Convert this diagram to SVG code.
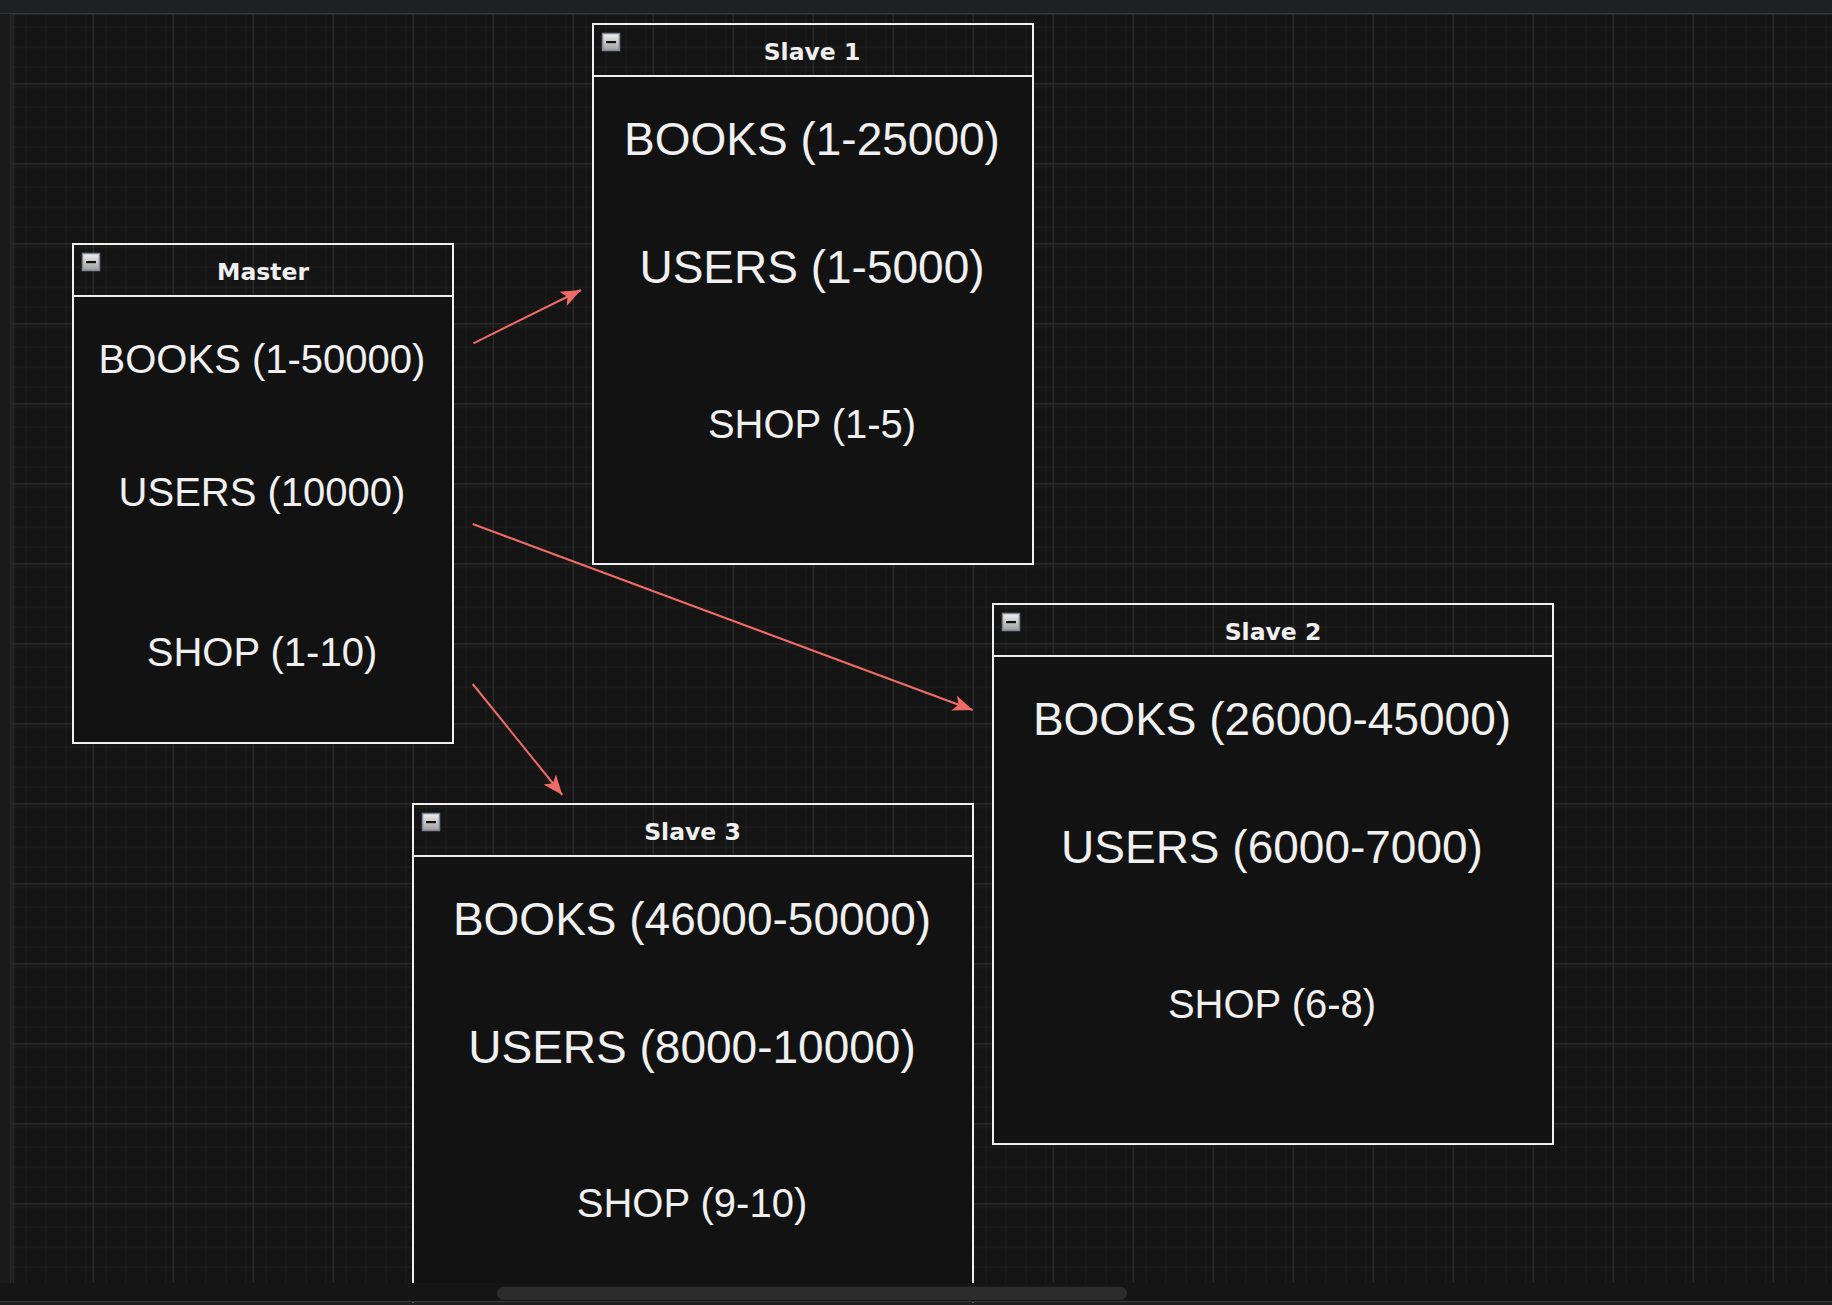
<svg xmlns="http://www.w3.org/2000/svg" width="1832" height="1305" viewBox="0 0 1832 1305">
  <style>
    .frame { fill: none; stroke: #f0f0f0; stroke-width: 2; }
    .body { fill: #121212; stroke: #f0f0f0; stroke-width: 2; }
    .title { font-family: "DejaVu Sans", Verdana, sans-serif; font-weight: bold; font-size: 23.5px; fill: #f0f0f0; text-anchor: middle; }
    .big { font-family: "Liberation Sans", Arial, Helvetica, sans-serif; font-size: 46px; fill: #f0f0f0; text-anchor: middle; }
    .mid { font-family: "Liberation Sans", Arial, Helvetica, sans-serif; font-size: 40px; fill: #f0f0f0; text-anchor: middle; }
    .edge { fill: none; stroke: #f06b66; stroke-width: 2; }
  </style>
  <defs>
    <pattern id="minor" width="20" height="20" patternUnits="userSpaceOnUse" patternTransform="translate(12.7 3.3)">
      <path d="M0.5 0 V20 M0 0.5 H20" stroke="#1f1f1f" stroke-width="1.3" fill="none"/>
    </pattern>
    <pattern id="major" width="80" height="80" patternUnits="userSpaceOnUse" patternTransform="translate(12.7 3.3)">
      <rect width="80" height="80" fill="url(#minor)"/>
      <path d="M0.5 0 V80 M0 0.5 H80" stroke="#303030" stroke-width="1.3" fill="none"/>
    </pattern>
    <linearGradient id="btn" x1="0" y1="0" x2="0" y2="1">
      <stop offset="0" stop-color="#f2f2f2"/>
      <stop offset="1" stop-color="#9c9c9c"/>
    </linearGradient>
    <g id="minus">
      <rect x="0" y="0" width="17" height="17" fill="url(#btn)" stroke="#7c8596" stroke-width="1.5"/>
      <rect x="3.5" y="7.5" width="10" height="2.2" fill="#111"/>
    </g>
    <marker id="arrow" viewBox="-21 -9 22 18" refX="0" refY="0" markerWidth="22" markerHeight="18" markerUnits="userSpaceOnUse" orient="auto">
      <path d="M0 0 L-20 -8 L-15 0 L-20 8 Z" fill="#f06b66"/>
    </marker>
  </defs>

  <!-- canvas -->
  <rect x="0" y="0" width="1832" height="1305" fill="#141414"/>
  <rect x="12" y="14" width="1820" height="1270" fill="url(#major)"/>

  <g id="connectors">
    <path id="e1" class="edge" d="M473.4 343.3 L581 290" marker-end="url(#arrow)"/>
    <path id="e2" class="edge" d="M472.7 524 L972.7 710" marker-end="url(#arrow)"/>
    <path id="e3" class="edge" d="M472.7 684 L562.3 795" marker-end="url(#arrow)"/>
  </g>

  <g id="master">
    <rect class="body" x="73" y="296" width="380" height="447"/>
    <rect class="frame" x="73" y="244" width="380" height="499"/>
    <use href="#minus" x="82.5" y="253.5"/>
    <text class="title" x="263" y="280">Master</text>
    <text class="mid" x="262" y="373.3">BOOKS (1-50000)</text>
    <text class="mid" x="262" y="506">USERS (10000)</text>
    <text class="mid" x="262" y="666">SHOP (1-10)</text>
  </g>

  <g id="slave1">
    <rect class="body" x="593" y="76" width="440" height="488"/>
    <rect class="frame" x="593" y="24" width="440" height="540"/>
    <use href="#minus" x="602.5" y="33.5"/>
    <text class="title" x="812" y="60.3">Slave 1</text>
    <text class="big" x="812" y="155">BOOKS (1-25000)</text>
    <text class="big" x="812" y="282.7">USERS (1-5000)</text>
    <text class="mid" x="812" y="437.7">SHOP (1-5)</text>
  </g>

  <g id="slave2">
    <rect class="body" x="993" y="656" width="560" height="488"/>
    <rect class="frame" x="993" y="604" width="560" height="540"/>
    <use href="#minus" x="1002.5" y="613.5"/>
    <text class="title" x="1273" y="640">Slave 2</text>
    <text class="big" x="1272" y="735">BOOKS (26000-45000)</text>
    <text class="big" x="1272" y="862.7">USERS (6000-7000)</text>
    <text class="mid" x="1272" y="1018.3">SHOP (6-8)</text>
  </g>

  <g id="slave3">
    <rect class="body" x="413" y="856" width="560" height="488"/>
    <rect class="frame" x="413" y="804" width="560" height="540"/>
    <use href="#minus" x="422.5" y="813.5"/>
    <text class="title" x="692.5" y="840.3">Slave 3</text>
    <text class="big" x="692" y="935">BOOKS (46000-50000)</text>
    <text class="big" x="692" y="1062.7">USERS (8000-10000)</text>
    <text class="mid" x="692" y="1216.7">SHOP (9-10)</text>
  </g>

  <!-- window chrome -->
  <rect x="0" y="0" width="1832" height="13" fill="#1f2022"/>
  <rect x="0" y="13" width="1832" height="1.5" fill="#34353a"/>
  <rect x="0" y="14" width="11" height="1270" fill="#1a1a1a"/>
  <rect x="10" y="14" width="1.5" height="1270" fill="#2a2a2a"/>
  <rect x="0" y="1283" width="1832" height="18" fill="#151515"/>
  <rect x="497" y="1286.7" width="630" height="13.3" rx="6.6" fill="#2c2c2c"/>
  <rect x="0" y="1301" width="1832" height="1.5" fill="#3a3a3a"/>
  <rect x="0" y="1302.5" width="1832" height="2.5" fill="#1e1e1e"/>
</svg>
